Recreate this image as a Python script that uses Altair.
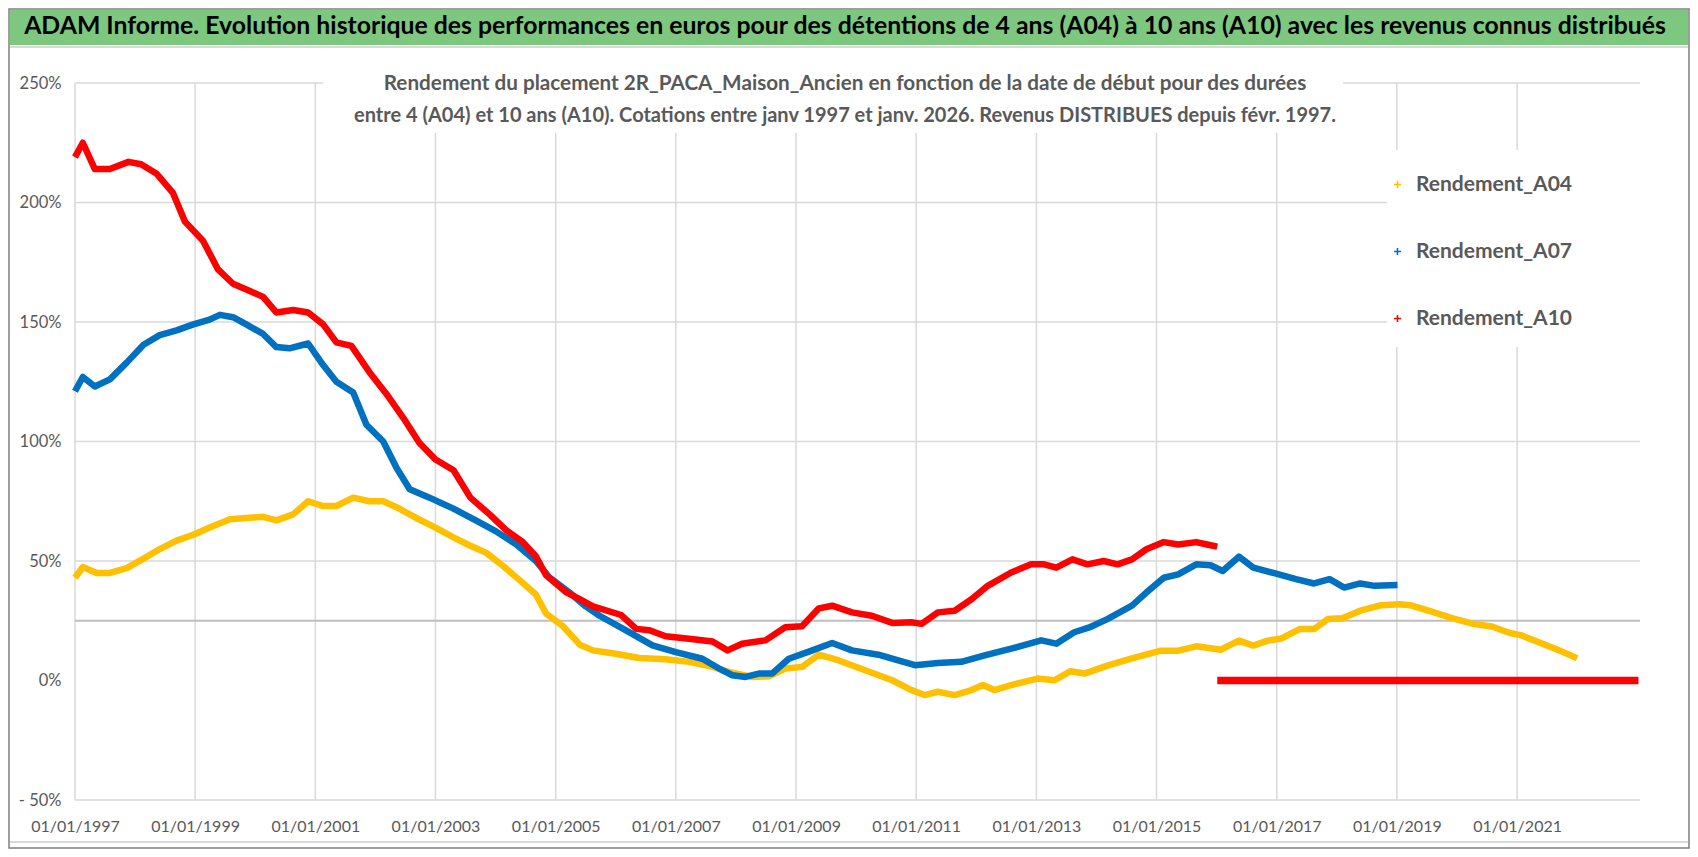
import altair as alt
import pandas as pd

# ---------------- data ----------------
a04_year = [1997.0, 1997.13, 1997.36, 1997.58, 1997.86, 1998.14, 1998.41, 1998.69, 1998.97, 1999.24,
            1999.58, 1999.85, 2000.13, 2000.35, 2000.63, 2000.88, 2001.13, 2001.35, 2001.63, 2001.9,
            2002.13, 2002.35, 2002.68, 2003.0, 2003.29, 2003.57, 2003.84, 2004.12, 2004.4, 2004.67,
            2004.84, 2005.11, 2005.4, 2005.62, 2006.0, 2006.39, 2006.83, 2007.22, 2007.61, 2007.88,
            2008.27, 2008.55, 2008.82, 2009.1, 2009.38, 2009.71, 2010.15, 2010.6, 2010.92, 2011.14,
            2011.36, 2011.64, 2011.92, 2012.11, 2012.3, 2012.58, 2013.02, 2013.3, 2013.57, 2013.8,
            2014.18, 2014.59, 2015.07, 2015.36, 2015.66, 2016.07, 2016.37, 2016.61, 2016.85, 2017.08,
            2017.38, 2017.62, 2017.85, 2018.09, 2018.39, 2018.74, 2019.04, 2019.22, 2019.58, 2019.93,
            2020.29, 2020.58, 2020.88, 2021.06, 2021.36, 2021.71, 2022.0]
a04_val = [43, 47.5, 45, 45, 47, 51, 55, 58.5, 61, 64,
           67.5, 68, 68.5, 67, 69.5, 75, 73, 73, 76.5, 75,
           75, 72.5, 68, 64, 60, 56.5, 53.5, 48, 42, 36,
           28, 23, 15, 12.6, 11.2, 9.4, 8.9, 7.8, 5.7, 3.6,
           1.5, 1.8, 5, 5.7, 10.8, 8.4, 4.3, 0.1, -4, -6.1,
           -4.7, -6.1, -4, -1.9, -4, -1.9, 0.8, 0.1, 3.9, 2.9,
           6.25, 9.3, 12.5, 12.5, 14.3, 12.9, 16.7, 14.6, 16.7, 17.6,
           21.5, 21.5, 25.7, 26, 29.2, 31.5, 31.9, 31.5, 28.8, 26,
           23.6, 22.6, 19.9, 19, 16, 12.5, 9.3]

a07_year = [1997.0, 1997.13, 1997.33, 1997.58, 1997.86, 1998.14, 1998.41, 1998.69, 1998.97, 1999.24,
            1999.41, 1999.63, 1999.85, 2000.13, 2000.35, 2000.57, 2000.88, 2001.13, 2001.35, 2001.63,
            2001.85, 2002.13, 2002.35, 2002.57, 2002.9, 2003.29, 2003.67, 2004.0, 2004.34, 2004.67,
            2004.9, 2005.22, 2005.5, 2005.73, 2006.17, 2006.61, 2007.0, 2007.44, 2007.72, 2007.94,
            2008.16, 2008.38, 2008.6, 2008.88, 2009.27, 2009.6, 2009.93, 2010.37, 2010.7, 2010.98,
            2011.36, 2011.75, 2012.14, 2012.58, 2013.08, 2013.33, 2013.63, 2013.88, 2014.18, 2014.59,
            2014.83, 2015.12, 2015.36, 2015.66, 2015.9, 2016.1, 2016.37, 2016.61, 2016.96, 2017.32,
            2017.62, 2017.88, 2018.12, 2018.39, 2018.63, 2019.01]
a07_val = [121, 127, 123, 126, 133, 140.5, 144.5, 146.5, 149, 151,
           153, 152, 149, 145, 139.5, 139, 141, 132, 125, 120.5,
           107, 100, 89, 80, 76.5, 72, 67, 62.5, 57, 50,
           43, 37, 31, 27.1, 21, 14.7, 11.9, 9.1, 5, 2.2,
           1.5, 2.9, 2.9, 9.1, 12.6, 15.7, 12.6, 10.8, 8.4, 6.4,
           7.3, 7.8, 10.5, 13.3, 16.8, 15.4, 20.2, 22.2, 25.7, 31.3,
           36.8, 43, 44.4, 48.6, 48.2, 45.8, 51.8, 47.2, 44.9, 42.4,
           40.6, 42.4, 38.9, 40.6, 39.6, 40]

a10_year = [1997.0, 1997.13, 1997.33, 1997.58, 1997.89, 1998.1, 1998.36, 1998.63, 1998.83, 1999.13,
            1999.38, 1999.63, 1999.91, 2000.13, 2000.35, 2000.63, 2000.88, 2001.13, 2001.35, 2001.6,
            2001.9, 2002.18, 2002.46, 2002.73, 2003.0, 2003.3, 2003.58, 2003.9, 2004.17, 2004.45,
            2004.67, 2004.84, 2005.17, 2005.4, 2005.62, 2006.09, 2006.34, 2006.56, 2006.83, 2007.22,
            2007.61, 2007.86, 2008.1, 2008.49, 2008.82, 2009.1, 2009.38, 2009.6, 2009.93, 2010.26,
            2010.6, 2010.92, 2011.09, 2011.36, 2011.64, 2011.92, 2012.19, 2012.58, 2012.91, 2013.13,
            2013.33, 2013.6, 2013.85, 2014.12, 2014.35, 2014.59, 2014.83, 2015.12, 2015.36, 2015.66,
            2015.84, 2016.01]
a10_val = [219, 225, 214, 214, 217, 216, 212, 204, 192, 184,
           172, 166, 163, 160.5, 154, 155, 154, 149, 141.5, 140,
           129, 120, 110, 99.5, 92.5, 88, 76.5, 69.5, 63, 58,
           52, 44, 37, 34, 31, 27.4, 21.6, 21, 18.5, 17.5,
           16.3, 12.6, 15.4, 16.8, 22.3, 22.7, 30.2, 31.3, 28.5, 27.1,
           24.1, 24.4, 23.7, 28.5, 29.2, 34, 39.6, 45.2, 48.6, 48.6,
           47.2, 50.7, 48.6, 50, 48.6, 50.7, 54.9, 57.9, 56.9, 57.9,
           56.9, 56]
# A10 start dates without a full 10-year window: value shown as 0
a10_zero_year = [2016.01, 2023.02]
a10_zero_val = [0, 0]

series_names = ["Rendement_A04", "Rendement_A07", "Rendement_A10"]
series_colors = ["#FFC000", "#0070C0", "#FF0000"]

x_tick_years = [1997, 1999, 2001, 2003, 2005, 2007, 2009, 2011, 2013, 2015, 2017, 2019, 2021]
y_ticks = [-50, 0, 50, 100, 150, 200, 250]
y_grid = [-50, 50, 100, 150, 200, 250]
y_axis_line = [25]

title_text = ("ADAM Informe. Evolution historique des performances en euros pour des détentions "
              "de 4 ans (A04) à 10 ans (A10) avec les revenus connus distribués")
subtitle_1 = ("Rendement du placement 2R_PACA_Maison_Ancien en fonction de la date de début "
              "pour des durées")
subtitle_2 = ("entre 4 (A04) et 10 ans (A10).  Cotations entre janv 1997 et janv. 2026. "
              "Revenus DISTRIBUES depuis févr. 1997.")

# ---------------- helpers ----------------
BASE = pd.Timestamp("1997-01-01")


def to_date(y):
    return BASE + pd.Timedelta(days=(y - 1997.0) * 365.25)


def frame(years, vals, name, seg):
    return pd.DataFrame({"date": [to_date(y) for y in years], "value": vals,
                         "serie": name, "seg": seg})


df04 = frame(a04_year, a04_val, series_names[0], "a")
df07 = frame(a07_year, a07_val, series_names[1], "a")
df10 = frame(a10_year, a10_val, series_names[2], "a")
df10z = frame(a10_zero_year, a10_zero_val, series_names[2], "b")

xticks_df = pd.DataFrame({"date": [pd.Timestamp(f"{y}-01-01") for y in x_tick_years]})
ygrid_df = pd.DataFrame({"v": y_grid})
yline_df = pd.DataFrame({"v": y_axis_line})
one = pd.DataFrame({"k": [0]})

W, H = 1565, 717
FONT = "Lato"
GREY = "#595959"

x_scale = alt.Scale(domain=[alt.DateTime(year=1997, month=1, date=1).to_dict(),
                            alt.DateTime(year=2023, month=1, date=18).to_dict()])
y_scale = alt.Scale(domain=[-50, 250], nice=False, zero=False)

x_enc = alt.X("date:T", scale=x_scale, title=None,
              axis=alt.Axis(values=[alt.DateTime(year=y, month=1, date=1).to_dict() for y in x_tick_years],
                            format="%d/%m/%Y", labelFontSize=16, labelColor=GREY, labelFont=FONT,
                            labelOverlap=False, labelFlush=False, labelBound=False,
                            grid=False, ticks=False, domain=False, labelPadding=18, zindex=1))
y_enc = alt.Y("value:Q", scale=y_scale, title=None,
              axis=alt.Axis(values=y_ticks, labelFontSize=16.5, labelColor=GREY, labelFont=FONT,
                            labelExpr="datum.value < 0 ? '- ' + abs(datum.value) + '%' : datum.value + '%'",
                            labelOverlap=False, labelFlush=False,
                            grid=False, ticks=False, domain=False, labelPadding=14, zindex=1))
color_enc = alt.Color("serie:N", scale=alt.Scale(domain=series_names, range=series_colors),
                      legend=alt.Legend(title=None, orient="none", legendX=1312, legendY=91,
                                        symbolType="M-1,0L1,0M0,-1L0,1", symbolSize=50,
                                        symbolStrokeWidth=1.6,
                                        labelFontSize=21, labelColor=GREY, labelFont=FONT,
                                        labelFontWeight="bold", rowPadding=45, labelOffset=8,
                                        labelLimit=400, padding=0, zindex=2))

# ---------------- decoration ----------------
outer = alt.Chart(one).mark_rect(fillOpacity=0, stroke="#7f7f7f", strokeWidth=1.5).encode(
    x=alt.value(-66), x2=alt.value(1614), y=alt.value(-74), y2=alt.value(765))
bar = alt.Chart(one).mark_rect(fill="#7DC87E").encode(
    x=alt.value(-65), x2=alt.value(1613), y=alt.value(-73), y2=alt.value(-38))
bar_line = alt.Chart(one).mark_rect(fill="#D9D9D9").encode(
    x=alt.value(-65), x2=alt.value(1613), y=alt.value(-37), y2=alt.value(-35))
bottom_line = alt.Chart(one).mark_rect(fill="#D9D9D9").encode(
    x=alt.value(-65), x2=alt.value(1613), y=alt.value(758), y2=alt.value(760))
title = alt.Chart(one).mark_text(font=FONT, fontSize=24.8, fontWeight="bold", color="black",
                                 align="center", baseline="middle").encode(
    x=alt.value(770), y=alt.value(-56), text=alt.value(title_text))

vgrid = alt.Chart(xticks_df).mark_rule(color="#D9D9D9", strokeWidth=1.5).encode(
    x=alt.X("date:T", scale=x_scale))
hgrid = alt.Chart(ygrid_df).mark_rule(color="#D9D9D9", strokeWidth=1.5).encode(
    y=alt.Y("v:Q", scale=y_scale))
hline = alt.Chart(yline_df).mark_rule(color="#BFBFBF", strokeWidth=1.8).encode(
    y=alt.Y("v:Q", scale=y_scale))

sub_box = alt.Chart(one).mark_rect(fill="white").encode(
    x=alt.value(248), x2=alt.value(1268), y=alt.value(-2), y2=alt.value(50))
leg_box = alt.Chart(one).mark_rect(fill="white").encode(
    x=alt.value(1312), x2=alt.value(1566), y=alt.value(67), y2=alt.value(264))
sub1 = alt.Chart(one).mark_text(font=FONT, fontSize=20.7, fontWeight="bold", color=GREY,
                                align="center", baseline="middle").encode(
    x=alt.value(770), y=alt.value(1), text=alt.value(subtitle_1))
sub2 = alt.Chart(one).mark_text(font=FONT, fontSize=20, fontWeight="bold", color=GREY,
                                align="center", baseline="middle").encode(
    x=alt.value(770), y=alt.value(33), text=alt.value(subtitle_2))

# ---------------- series ----------------
def series(df, width=6.5):
    return alt.Chart(df).mark_line(strokeWidth=width, strokeJoin="round").encode(
        x=x_enc, y=y_enc, color=color_enc, detail="seg:N", order="date:T")


chart = alt.layer(
    outer, bar, bar_line, bottom_line, title,
    vgrid, hgrid, hline, sub_box, leg_box, sub1, sub2,
    series(df04), series(df07), series(df10), series(df10z, 7.5)
).properties(width=W, height=H, padding=0, background="white").configure_view(stroke=None)

chart.save("out.html", embed_options={"renderer": "svg", "actions": False})
